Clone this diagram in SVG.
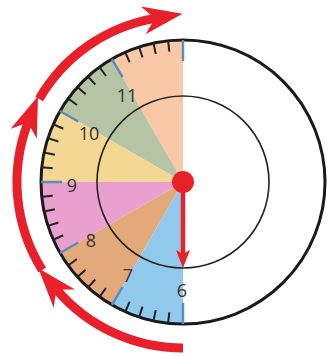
<svg xmlns="http://www.w3.org/2000/svg" xmlns:xlink="http://www.w3.org/1999/xlink" width="328" height="356" viewBox="0 0 328 356">
  <style>
    .num { font-family: "Open Sans", "Liberation Sans", sans-serif; font-size: 18px; fill: #333; text-anchor: middle; }
    .minor { stroke: #222; stroke-width: 2; }
    .hour { stroke: #5a8dba; stroke-width: 2.5; }
    .arc { fill: none; stroke: #e8202a; stroke-width: 9; }
  </style>
  <defs>
    <line id="tm" class="minor" x1="183" y1="40" x2="183" y2="51"/>
    <line id="th" class="hour" x1="183" y1="40" x2="183" y2="61"/>
    <marker id="bigArrow" markerUnits="userSpaceOnUse" orient="auto" refX="0" refY="0" markerWidth="80" markerHeight="80" overflow="visible">
      <path d="M-12,-14 L28,0 L-12,14 L0,0 Z" fill="#e8202a"/>
    </marker>
    <marker id="handArrow" markerUnits="userSpaceOnUse" orient="auto" refX="0" refY="0" markerWidth="40" markerHeight="40" overflow="visible">
      <path d="M-6,-7 L12,0 L-6,7 L-2,0 Z" fill="#e8202a"/>
    </marker>
  </defs>
  <rect width="328" height="356" fill="#ffffff"/>

  <g id="clock">
    <g id="sectors">
      <path d="M183,182 L183,40 A142,142 0 0 0 112,59.02 Z" fill="#f9c8a6"/>
      <path d="M183,182 L112,59.02 A142,142 0 0 0 60.02,111 Z" fill="#b6c4a6"/>
      <path d="M183,182 L60.02,111 A142,142 0 0 0 41,182 Z" fill="#f3d792"/>
      <path d="M183,182 L41,182 A142,142 0 0 0 60.02,253 Z" fill="#e9a0cf"/>
      <path d="M183,182 L60.02,253 A142,142 0 0 0 112,304.98 Z" fill="#e3a97a"/>
      <path d="M183,182 L112,304.98 A142,142 0 0 0 183,324 Z" fill="#90c9ec"/>
    </g>
    <circle id="inner" cx="183" cy="182" r="86" fill="none" stroke="#222" stroke-width="1.6"/>
    <circle id="outer" cx="183" cy="182" r="142" fill="none" stroke="#1a1a1a" stroke-width="3"/>
    <g id="ticks">
      <use xlink:href="#tm" transform="rotate(186 183 182)"/>
      <use xlink:href="#tm" transform="rotate(192 183 182)"/>
      <use xlink:href="#tm" transform="rotate(198 183 182)"/>
      <use xlink:href="#tm" transform="rotate(204 183 182)"/>
      <use xlink:href="#tm" transform="rotate(216 183 182)"/>
      <use xlink:href="#tm" transform="rotate(222 183 182)"/>
      <use xlink:href="#tm" transform="rotate(228 183 182)"/>
      <use xlink:href="#tm" transform="rotate(234 183 182)"/>
      <use xlink:href="#tm" transform="rotate(246 183 182)"/>
      <use xlink:href="#tm" transform="rotate(252 183 182)"/>
      <use xlink:href="#tm" transform="rotate(258 183 182)"/>
      <use xlink:href="#tm" transform="rotate(264 183 182)"/>
      <use xlink:href="#tm" transform="rotate(276 183 182)"/>
      <use xlink:href="#tm" transform="rotate(282 183 182)"/>
      <use xlink:href="#tm" transform="rotate(288 183 182)"/>
      <use xlink:href="#tm" transform="rotate(294 183 182)"/>
      <use xlink:href="#tm" transform="rotate(306 183 182)"/>
      <use xlink:href="#tm" transform="rotate(312 183 182)"/>
      <use xlink:href="#tm" transform="rotate(318 183 182)"/>
      <use xlink:href="#tm" transform="rotate(324 183 182)"/>
      <use xlink:href="#tm" transform="rotate(336 183 182)"/>
      <use xlink:href="#tm" transform="rotate(342 183 182)"/>
      <use xlink:href="#tm" transform="rotate(348 183 182)"/>
      <use xlink:href="#tm" transform="rotate(354 183 182)"/>
      <use xlink:href="#th" transform="rotate(0 183 182)"/>
      <use xlink:href="#th" transform="rotate(330 183 182)"/>
      <use xlink:href="#th" transform="rotate(300 183 182)"/>
      <use xlink:href="#th" transform="rotate(270 183 182)"/>
      <use xlink:href="#th" transform="rotate(240 183 182)"/>
      <use xlink:href="#th" transform="rotate(210 183 182)"/>
      <use xlink:href="#th" transform="rotate(180 183 182)"/>
    </g>
    <g id="numbers">
      <text class="num" x="127" y="101.5">11</text>
      <text class="num" x="89" y="139.5">10</text>
      <text class="num" x="72" y="191.5">9</text>
      <text class="num" x="91" y="246.5">8</text>
      <text class="num" x="128" y="281.5">7</text>
      <text class="num" x="182" y="296.5">6</text>
    </g>
  </g>

  <g id="hand">
    <line x1="183" y1="185" x2="183" y2="256" stroke="#e8202a" stroke-width="4.5" marker-end="url(#handArrow)"/>
    <circle cx="183" cy="182" r="11" fill="#e8202a"/>
  </g>

  <g id="connectors">
    <path class="arc" d="M183,348 A166,166 0 0 1 56.5,289.5" marker-end="url(#bigArrow)"/>
    <path class="arc" d="M42.2,270 A166,166 0 0 1 28,122.5" marker-end="url(#bigArrow)"/>
    <path class="arc" d="M39.2,99 A166,166 0 0 1 155,18.4" marker-end="url(#bigArrow)"/>
  </g>
</svg>
